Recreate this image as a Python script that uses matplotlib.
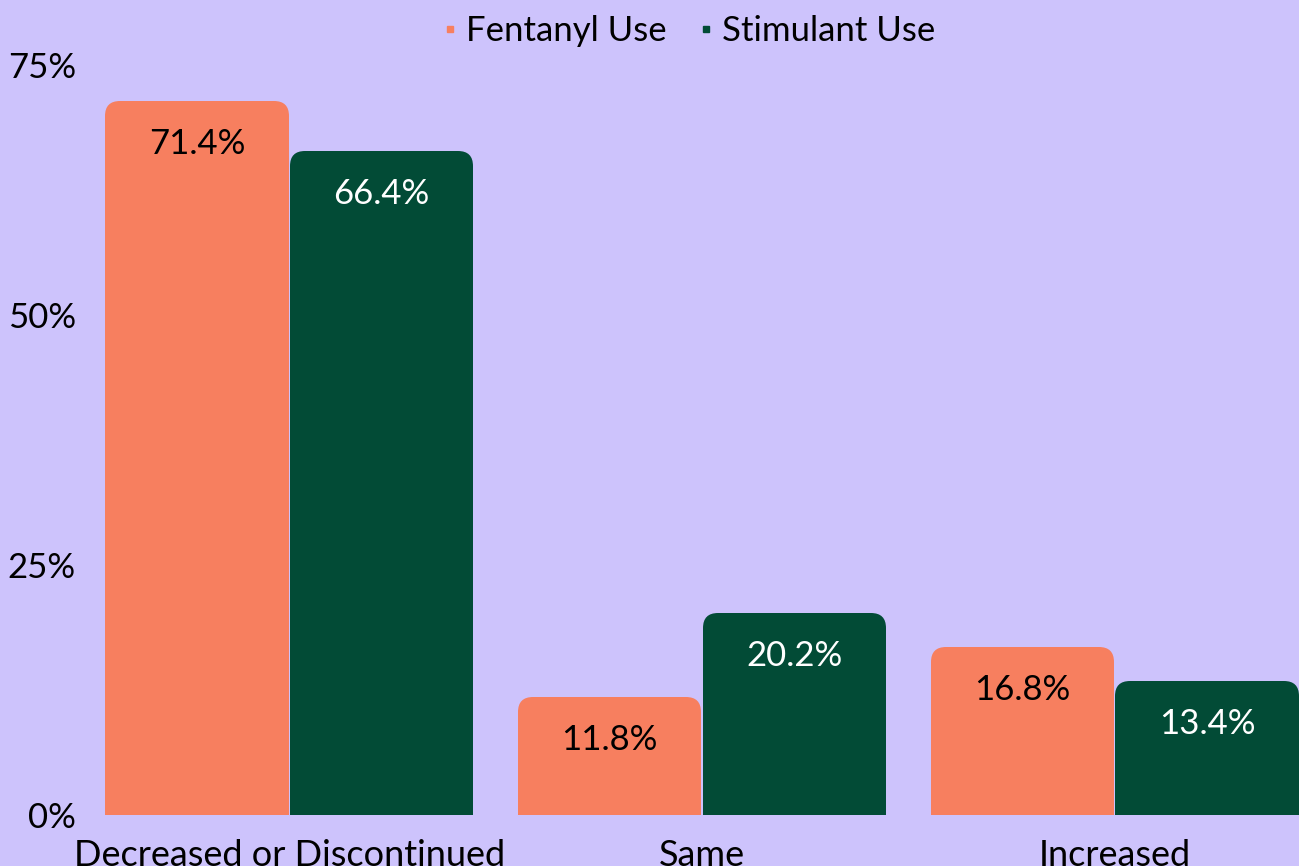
import matplotlib.pyplot as plt
from matplotlib.patches import FancyBboxPatch, Rectangle
from matplotlib.lines import Line2D
import numpy as np

categories = ['Decreased or Discontinued', 'Same', 'Increased']
fentanyl = [71.4, 11.8, 16.8]
stimulant = [66.4, 20.2, 13.4]
series_names = ['Fentanyl Use', 'Stimulant Use']
yticks = [0, 25, 50, 75]

bg = '#CDC3FC'
orange = '#F77F5F'
green = '#024B36'

plt.rcParams['font.family'] = ['Lato', 'DejaVu Sans']

fig = plt.figure(figsize=(12.99, 8.66), dpi=100, facecolor=bg)
ax = fig.add_axes([105 / 1299, 1 - 815 / 866, 1 - 105 / 1299, (815 - 65) / 866])
ax.set_facecolor(bg)

x = np.arange(len(categories))
w = 0.4445
off = 0.2235

bars1 = ax.bar(x - off, fentanyl, w, color=orange)
bars2 = ax.bar(x + off, stimulant, w, color=green)

ax.set_xlim(-0.446, 2.446)
ax.set_ylim(0, 75)

# swap plain bars for ones with rounded tops
r = 15 / 412  # corner radius in x data units
aspect = (15 / 10) / r
for bars, col, tcol in [(bars1, orange, 'black'), (bars2, green, 'white')]:
    for b in bars:
        bx, by = b.get_x(), b.get_y()
        bw, bh = b.get_width(), b.get_height()
        b.set_visible(False)
        ax.add_patch(FancyBboxPatch((bx, by), bw, bh,
                                    boxstyle=f'round,pad=0,rounding_size={r}',
                                    mutation_aspect=aspect, fc=col, ec='none', snap=True))
        ax.add_patch(Rectangle((bx, by), bw, bh / 2, fc=col, ec='none', snap=True))
        ax.text(bx + bw / 2, bh - 4.3, f'{bh:.1f}%', ha='center', va='center',
                fontsize=25, color=tcol)

ax.set_yticks(yticks)
ax.set_yticklabels([f'{v}%' for v in yticks])
ax.set_xticks(x)
ax.set_xticklabels(categories)
ax.tick_params(axis='y', length=0, pad=21, labelsize=25)
ax.tick_params(axis='x', length=0, pad=17, labelsize=26)
for s in ax.spines.values():
    s.set_visible(False)

handles = [Line2D([], [], marker='s', ls='none', color=orange, markersize=4.5),
           Line2D([], [], marker='s', ls='none', color=green, markersize=4.5)]
fig.legend(handles, series_names, loc='center', bbox_to_anchor=(690 / 1299, 1 - 31 / 866),
           ncol=2, frameon=False, fontsize=25, handlelength=0.3, handletextpad=0.3,
           columnspacing=1.0)

fig.savefig('out.png', dpi=100, facecolor=bg)
